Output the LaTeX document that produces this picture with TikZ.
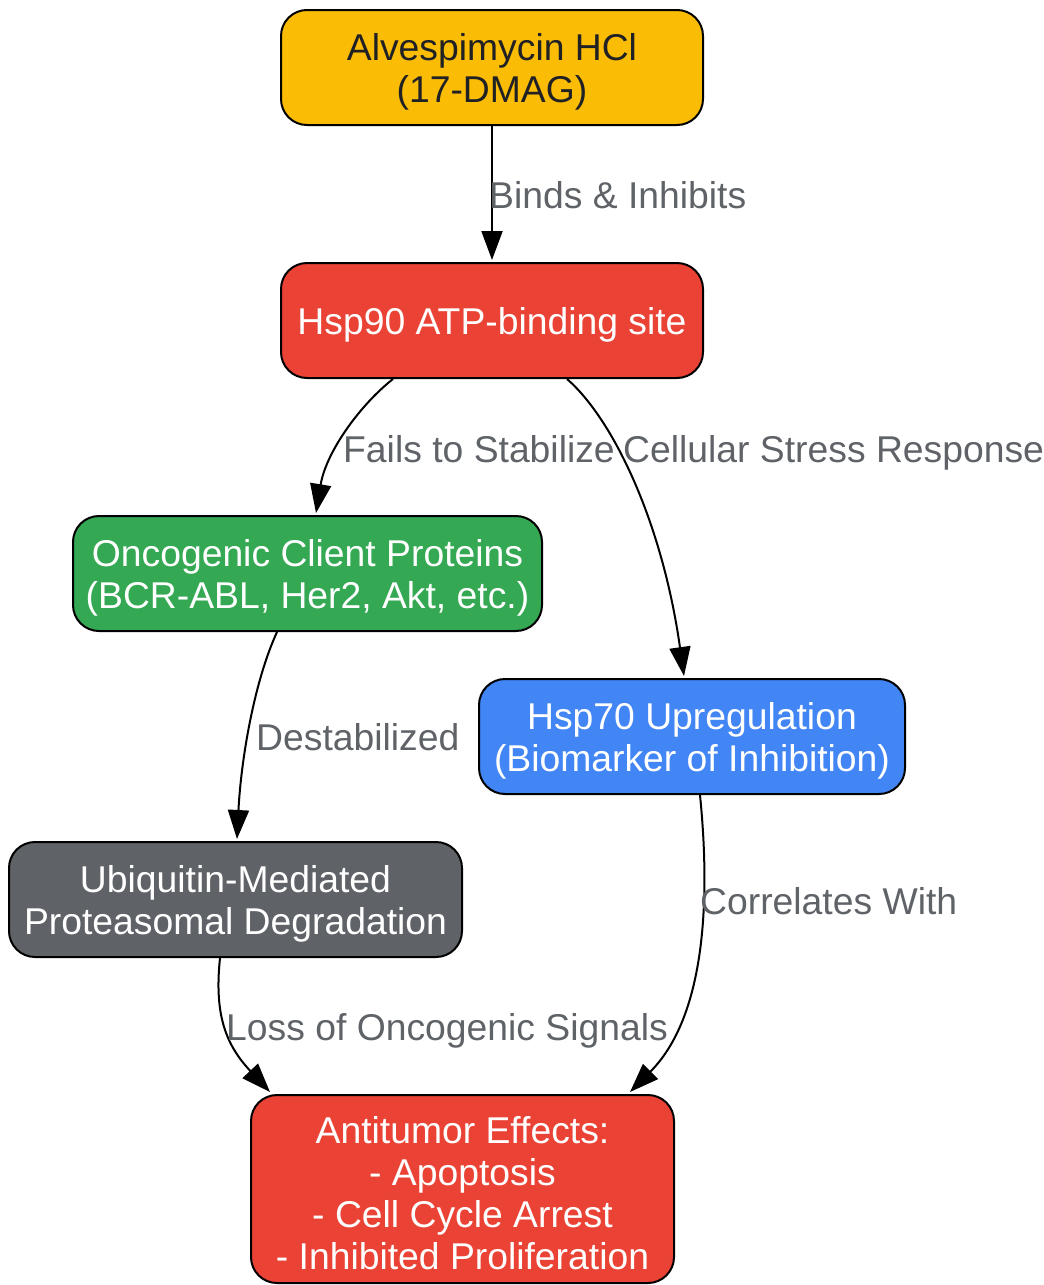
\documentclass[tikz,border=0pt]{standalone}
\usepackage{fontspec}
\setmainfont{Liberation Sans}
\usetikzlibrary{arrows.meta,calc}
\definecolor{cyellow}{HTML}{FBBC05}
\definecolor{cred}{HTML}{EA4335}
\definecolor{cgreen}{HTML}{34A853}
\definecolor{cblue}{HTML}{4285F4}
\definecolor{cgray}{HTML}{5F6368}
\definecolor{cdark}{HTML}{202124}
\begin{document}
\begin{tikzpicture}[x=1pt,y=-1pt,
  box/.style={draw=black, line width=2pt, rounded corners=26pt, inner sep=0pt},
  boxtext/.style={align=center, inner sep=0pt, text=white, font=\fontsize{37.3}{42}\selectfont},
  elabel/.style={anchor=base west, inner sep=0pt, text=cgray, font=\fontsize{37.3}{42}\selectfont},
  conn/.style={draw=black, line width=2pt, -{Triangle[length=29pt,width=21pt]}}
]
\useasboundingbox (0,0) rectangle (1044,1285);
\node[box, fill=cyellow, minimum width=422pt, minimum height=115pt] (n1) at (492,67.5) {};
\node[boxtext, text=cdark] (t1) at ($(n1.center)+(0,4)$) {Alvespimycin HCl\\(17-DMAG)};
\node[box, fill=cred, minimum width=422pt, minimum height=115pt] (n2) at (492,320.5) {};
\node[boxtext] (t2) at ($(n2.center)+(0,4)$) {Hsp90 ATP-binding site};
\node[box, fill=cgreen, minimum width=469pt, minimum height=115pt] (n3) at (307.5,573.5) {};
\node[boxtext] (t3) at ($(n3.center)+(0,4)$) {Oncogenic Client Proteins\\(BCR-ABL, Her2, Akt, etc.)};
\node[box, fill=cblue, minimum width=426pt, minimum height=115pt] (n4) at (692,736.5) {};
\node[boxtext] (t4) at ($(n4.center)+(0,4)$) {Hsp70 Upregulation\\(Biomarker of Inhibition)};
\node[box, fill=cgray, minimum width=453pt, minimum height=115pt] (n5) at (235.5,899.5) {};
\node[boxtext] (t5) at ($(n5.center)+(0,4)$) {Ubiquitin-Mediated\\Proteasomal Degradation};
\node[box, fill=cred, minimum width=423pt, minimum height=188pt] (n6) at (462.5,1189) {};
\node[boxtext] (t6) at ($(n6.center)+(0,4)$) {Antitumor Effects:\\- Apoptosis\\- Cell Cycle Arrest\\- Inhibited Proliferation};

\draw[conn] (n1.south) -- ($(n2.north)+(0,-2)$);
\draw[conn] ($(n2.south)+(-99,0)$) .. controls (360,405) and (326,452) .. ($(n3.north)+(8.5,-2)$);
\draw[conn] ($(n2.south)+(75,0)$) .. controls (612,418) and (662,520) .. ($(n4.north)+(-8,-2)$);
\draw[conn] ($(n3.south)+(-30.5,0)$) .. controls (254,682) and (241,760) .. ($(n5.north)+(1.5,-2)$);
\draw[conn] ($(n4.south)+(8,0)$) .. controls (708,875) and (712,1010) .. ($(n6.north)+(167.5,-2)$);
\draw[conn] ($(n5.south)+(-15.5,0)$) .. controls (214,1015) and (226,1045) .. ($(n6.north)+(-192.5,-2)$);

\node[elabel] (l1) at (489,208) {Binds \& Inhibits};
\node[elabel] (l2) at (343,462) {Fails to Stabilize};
\node[elabel] (l3) at (623,462) {Cellular Stress Response};
\node[elabel] (l4) at (256,750) {Destabilized};
\node[elabel] (l5) at (700,914) {Correlates With};
\node[elabel] (l6) at (226,1040) {Loss of Oncogenic Signals};
\end{tikzpicture}
\end{document}
